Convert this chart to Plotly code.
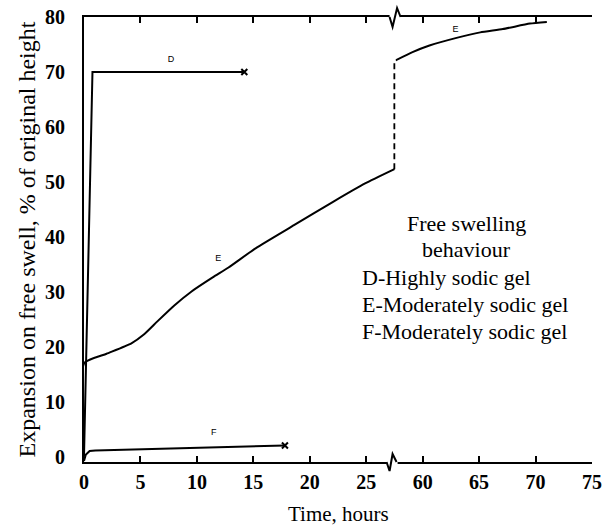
import plotly.graph_objects as go

# ---------------- data (hours, % expansion) ----------------
# Curve D - highly sodic gel
D_x = [0, 0.75, 14.2]
D_y = [0, 70, 70]

# Curve E - moderately sodic gel, early part (0-27.5 h)
E1_x = [0, 0.02, 2.0, 4.2, 5.3, 6.5, 8.0, 9.5, 11.4, 12.8, 15.2, 18.6, 22.1, 24.9, 27.5]
E1_y = [0, 17.0, 18.7, 20.6, 22.2, 24.6, 27.5, 30.0, 32.6, 34.4, 37.9, 42.1, 46.4, 49.7, 52.3]

# Curve E - later part (after the axis break)
E2_x = [57.6, 59.1, 60.6, 63.0, 65.1, 67.1, 69.5, 71.0]
E2_y = [72.1, 73.6, 74.8, 76.2, 77.2, 77.8, 78.8, 79.1]

# Curve F - moderately sodic gel
F_x = [0, 0.15, 0.5, 1.0, 17.8]
F_y = [-0.8, 0.3, 1.0, 1.1, 2.0]

# small curve labels
lbl_text = ["D", "E", "F"]
lbl_x = [7.7, 11.9, 11.5]
lbl_y = [72.2, 36.0, 4.3]
lbl2_text = ["E"]
lbl2_x = [62.9]
lbl2_y = [77.6]

x_ticks_left = [0, 5, 10, 15, 20, 25]
x_ticks_right = [60, 65, 70, 75]
y_ticks = [0, 10, 20, 30, 40, 50, 60, 70, 80]
right_y_ticks = [10, 20, 30, 40, 50, 60, 70]

x1_range = [0, 27.6]
x2_range = [57.6, 75]
y_range = [-1, 80]

legend_lines = ["Free swelling", "behaviour"]
legend_items = ["D-Highly sodic gel", "E-Moderately sodic gel", "F-Moderately sodic gel"]

# ---------------- figure ----------------
W, H = 614, 526
ML, MR, MT, MB = 84, 22, 17, 64
PW, PH = W - ML - MR, H - MT - MB
split = (x1_range[1] - x1_range[0]) / ((x1_range[1] - x1_range[0]) + (x2_range[1] - x2_range[0]))

SERIF = "Liberation Serif, Times New Roman, serif"
line = dict(color="black", width=2)

fig = go.Figure()
fig.add_trace(go.Scatter(x=D_x, y=D_y, mode="lines", line=line, xaxis="x", yaxis="y"))
fig.add_trace(go.Scatter(x=D_x[-1:], y=D_y[-1:], mode="markers",
                         marker=dict(symbol="x-thin", size=6, line=dict(color="black", width=2)),
                         xaxis="x", yaxis="y"))
fig.add_trace(go.Scatter(x=E1_x, y=E1_y, mode="lines",
                         line=dict(color="black", width=2, shape="spline", smoothing=0.5),
                         xaxis="x", yaxis="y"))
fig.add_trace(go.Scatter(x=F_x, y=F_y, mode="lines", line=line, xaxis="x", yaxis="y"))
fig.add_trace(go.Scatter(x=F_x[-1:], y=F_y[-1:], mode="markers",
                         marker=dict(symbol="x-thin", size=6, line=dict(color="black", width=2)),
                         xaxis="x", yaxis="y"))
# jump across the break (dashed)
fig.add_trace(go.Scatter(x=[E1_x[-1], E1_x[-1]], y=[E1_y[-1], E2_y[0]], mode="lines",
                         line=dict(color="black", width=2, dash="6px,4px"), xaxis="x", yaxis="y"))
fig.add_trace(go.Scatter(x=E2_x, y=E2_y, mode="lines",
                         line=dict(color="black", width=2, shape="spline", smoothing=0.5),
                         xaxis="x2", yaxis="y"))
fig.add_trace(go.Scatter(x=lbl_x, y=lbl_y, mode="text", text=lbl_text,
                         textfont=dict(family="Liberation Sans", size=9, color="black"),
                         xaxis="x", yaxis="y"))
fig.add_trace(go.Scatter(x=lbl2_x, y=lbl2_y, mode="text", text=lbl2_text,
                         textfont=dict(family="Liberation Sans", size=9, color="black"),
                         xaxis="x2", yaxis="y"))

tickfont = dict(family=SERIF, size=20, color="black", weight="bold")
common_x = dict(showline=True, linewidth=2, linecolor="black", mirror="ticks",
                ticks="inside", ticklen=6, tickwidth=2, tickcolor="black",
                showgrid=False, zeroline=False, tickfont=tickfont,
                ticklabelstandoff=1, automargin=False, anchor="y")

fig.update_layout(
    width=W, height=H,
    font=dict(family=SERIF, color="black"),
    margin=dict(l=ML, r=MR, t=MT, b=MB, pad=0),
    paper_bgcolor="white", plot_bgcolor="white",
    showlegend=False,
    xaxis=dict(common_x, domain=[0, split], range=x1_range, tickvals=x_ticks_left),
    xaxis2=dict(common_x, domain=[split, 1], range=x2_range, tickvals=x_ticks_right),
    yaxis=dict(range=y_range, tickvals=y_ticks, showline=True, linewidth=2, linecolor="black",
               ticks="", showgrid=False, zeroline=False, tickfont=tickfont,
               ticklabelstandoff=13, automargin=False, anchor="x",
               title=dict(text="Expansion on free swell, % of original height",
                          font=dict(family=SERIF, size=24, color="black"), standoff=3)),
    yaxis2=dict(range=y_range, overlaying="y", side="right", anchor="x2",
                tickvals=right_y_ticks, showticklabels=False, showline=True, linewidth=2,
                linecolor="black", ticks="inside", ticklen=6, tickwidth=2, tickcolor="black",
                showgrid=False, zeroline=False),
)

# x-axis title centred under the whole broken axis
fig.add_annotation(text="Time, hours", xref="paper", yref="paper", x=0.5, y=0,
                   yshift=-(514 - (H - MB)), showarrow=False, yanchor="middle",
                   font=dict(family=SERIF, size=21, color="black"))

# text block
def px_x(p):
    return (p - ML) / PW

def px_y(p):
    return 1 - (p - MT) / PH

for i, t in enumerate(legend_lines):
    fig.add_annotation(text=t, xref="paper", yref="paper", x=px_x(466), y=px_y(223 + 26 * i),
                       showarrow=False, xanchor="center", yanchor="middle",
                       font=dict(family=SERIF, size=22, color="black"))
for i, t in enumerate(legend_items):
    fig.add_annotation(text=t, xref="paper", yref="paper", x=px_x(360), y=px_y(277 + 27 * i),
                       showarrow=False, xanchor="left", yanchor="middle",
                       font=dict(family=SERIF, size=22, color="black"))

# axis-break zigzags on top and bottom frame lines
bx = ML + split * PW
def zig(points):
    return "M " + " L ".join(f"{px_x(x)},{px_y(y)}" for x, y in points)

fig.add_shape(type="line", xref="paper", yref="paper", x0=px_x(bx - 6), x1=px_x(bx + 5),
              y0=1, y1=1, line=dict(color="white", width=4))
fig.add_shape(type="line", xref="paper", yref="paper", x0=px_x(bx - 9), x1=px_x(bx + 2),
              y0=0, y1=0, line=dict(color="white", width=4))
fig.add_shape(type="path", xref="paper", yref="paper",
              path=zig([(bx - 6, MT), (bx - 3, MT + 10), (bx + 1.5, MT - 9), (bx + 5, MT)]),
              line=dict(color="black", width=2))
fig.add_shape(type="path", xref="paper", yref="paper",
              path=zig([(bx - 9, MT + PH), (bx - 6, MT + PH + 9), (bx - 3, MT + PH - 8), (bx + 1, MT + PH)]),
              line=dict(color="black", width=2))

fig.write_html("out.html")
